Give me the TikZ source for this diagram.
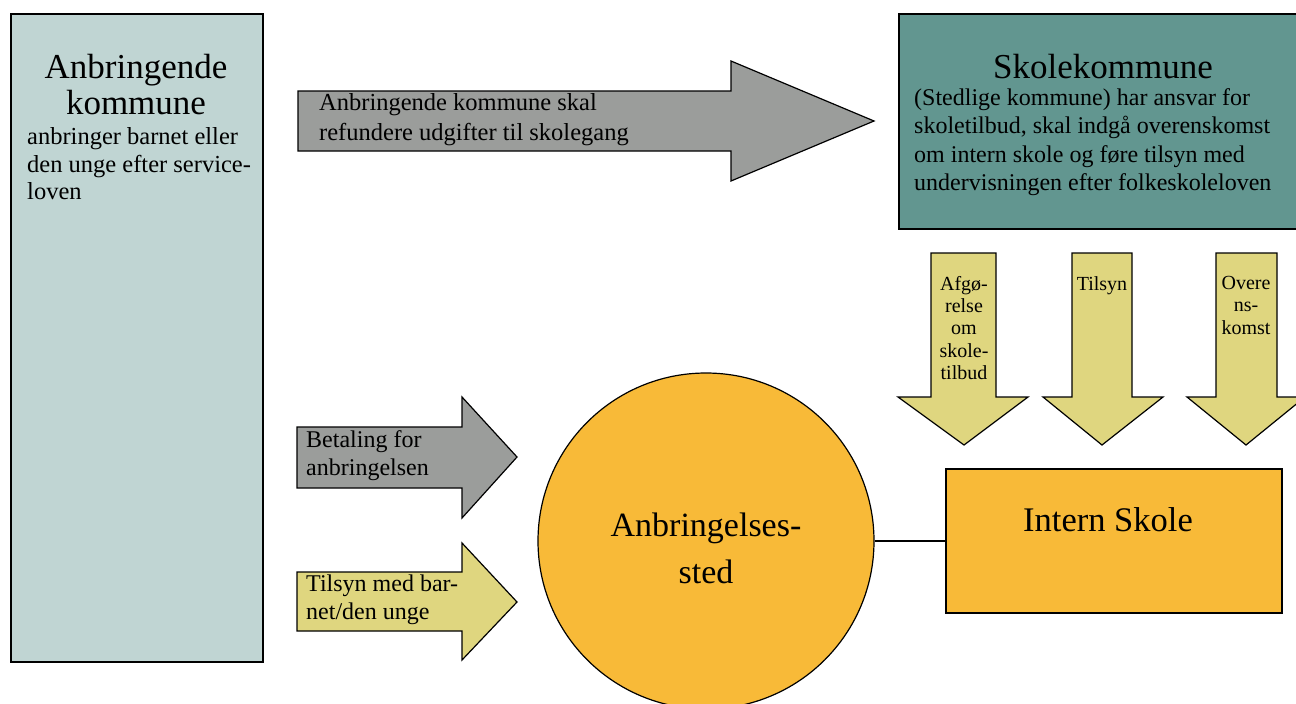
\documentclass[tikz,border=0pt]{standalone}
\usepackage{fontspec}
\setmainfont{Liberation Serif}
\definecolor{leftfill}{HTML}{C0D5D3}
\definecolor{grayarrow}{HTML}{9B9D9B}
\definecolor{skolefill}{HTML}{629690}
\definecolor{yellowarrow}{HTML}{DFD67F}
\definecolor{stedfill}{HTML}{F8BA38}
\begin{document}
\begin{tikzpicture}[x=1pt,y=-1pt,
  box/.style={draw=black,line width=1.5pt,inner sep=0pt},
  blockarrow/.style={draw=black,line width=1.2pt,line join=miter},
  txt/.style={inner sep=0pt,text=black},
  titlefont/.style={font=\fontsize{35}{36}\selectfont},
  bodyfont/.style={font=\fontsize{24}{28}\selectfont},
  smallfont/.style={font=\fontsize{20}{22.3}\selectfont},
]
\useasboundingbox (0,0) rectangle (1296,704);
\clip (0,0) rectangle (1296,704);
\fill[white] (0,0) rectangle (1296,704);

% Anbringende kommune
\node[box, fill=leftfill, minimum width=252, minimum height=648, anchor=north west] (anbr) at (10,13) {};
\node[txt, titlefont, align=center] (anbrtitle) at (136,85) {Anbringende\\kommune};
\node[txt, font=\fontsize{24.5}{27.5}\selectfont, align=left, anchor=west] (anbrtext) at (27,164) {anbringer barnet eller\\den unge efter service-\\loven};

% Skolekommune
\node[box, fill=skolefill, minimum width=412, minimum height=215, anchor=north west] (skolek) at (898,13) {};
\node[txt, titlefont] (skolektitle) at (1103,67) {Skolekommune};
\node[txt, font=\fontsize{24}{28.5}\selectfont, align=left, anchor=west] (skolektext) at (914,142) {(Stedlige kommune) har ansvar for\\skoletilbud, skal indgå overenskomst\\om intern skole og føre tilsyn med\\undervisningen efter folkeskoleloven};

% top arrow
\draw[blockarrow, fill=grayarrow] (298,91) -- (731,91) -- (731,61) -- (874,121) -- (731,181) -- (731,151) -- (298,151) -- cycle;
\node[txt, font=\fontsize{24.5}{30}\selectfont, align=left, anchor=west] (refund) at (319,120) {Anbringende kommune skal\\refundere udgifter til skolegang};

% down arrows
\draw[blockarrow, fill=yellowarrow] (931,253) -- (996,253) -- (996,397) -- (1028,397) -- (964,445) -- (898,397) -- (931,397) -- cycle;
\draw[blockarrow, fill=yellowarrow] (1072,253) -- (1132,253) -- (1132,397) -- (1163,397) -- (1102,445) -- (1043,397) -- (1072,397) -- cycle;
\draw[blockarrow, fill=yellowarrow] (1216,253) -- (1277,253) -- (1277,397) -- (1305,397) -- (1246,445) -- (1187,397) -- (1216,397) -- cycle;
\node[txt, smallfont, align=center, anchor=north] (afg) at (964,276) {Afgø-\\relse\\om\\skole-\\tilbud};
\node[txt, smallfont, align=center, anchor=north] (tils) at (1102,276) {Tilsyn};
\node[txt, smallfont, align=center, anchor=north] (overe) at (1246,276) {Overe\\ns-\\komst};

% left lower arrows
\draw[blockarrow, fill=grayarrow] (297,427) -- (462,427) -- (462,397) -- (517,457) -- (462,518) -- (462,488) -- (297,488) -- cycle;
\node[txt, bodyfont, align=left, anchor=west] (betal) at (306,456) {Betaling for\\anbringelsen};
\draw[blockarrow, fill=yellowarrow] (297,572) -- (462,572) -- (462,543) -- (517,602) -- (462,660) -- (462,631) -- (297,631) -- cycle;
\node[txt, bodyfont, align=left, anchor=west] (tilsbarn) at (306,600) {Tilsyn med bar-\\net/den unge};

% Anbringelsessted and Intern Skole
\node[draw=black, line width=1.2pt, circle, fill=stedfill, minimum size=336, inner sep=0pt] (sted) at (706,541) {};
\node[txt, font=\fontsize{34}{47}\selectfont, align=center] (stedtext) at (706,548) {Anbringelses-\\sted};
\node[box, fill=stedfill, minimum width=336, minimum height=144] (intern) at (1114,541) {};
\node[txt, font=\fontsize{34.5}{36}\selectfont] (interntext) at (1108,520) {Intern Skole};
\draw[line width=1.2pt] (sted.east) -- (intern.west);
\end{tikzpicture}
\end{document}
